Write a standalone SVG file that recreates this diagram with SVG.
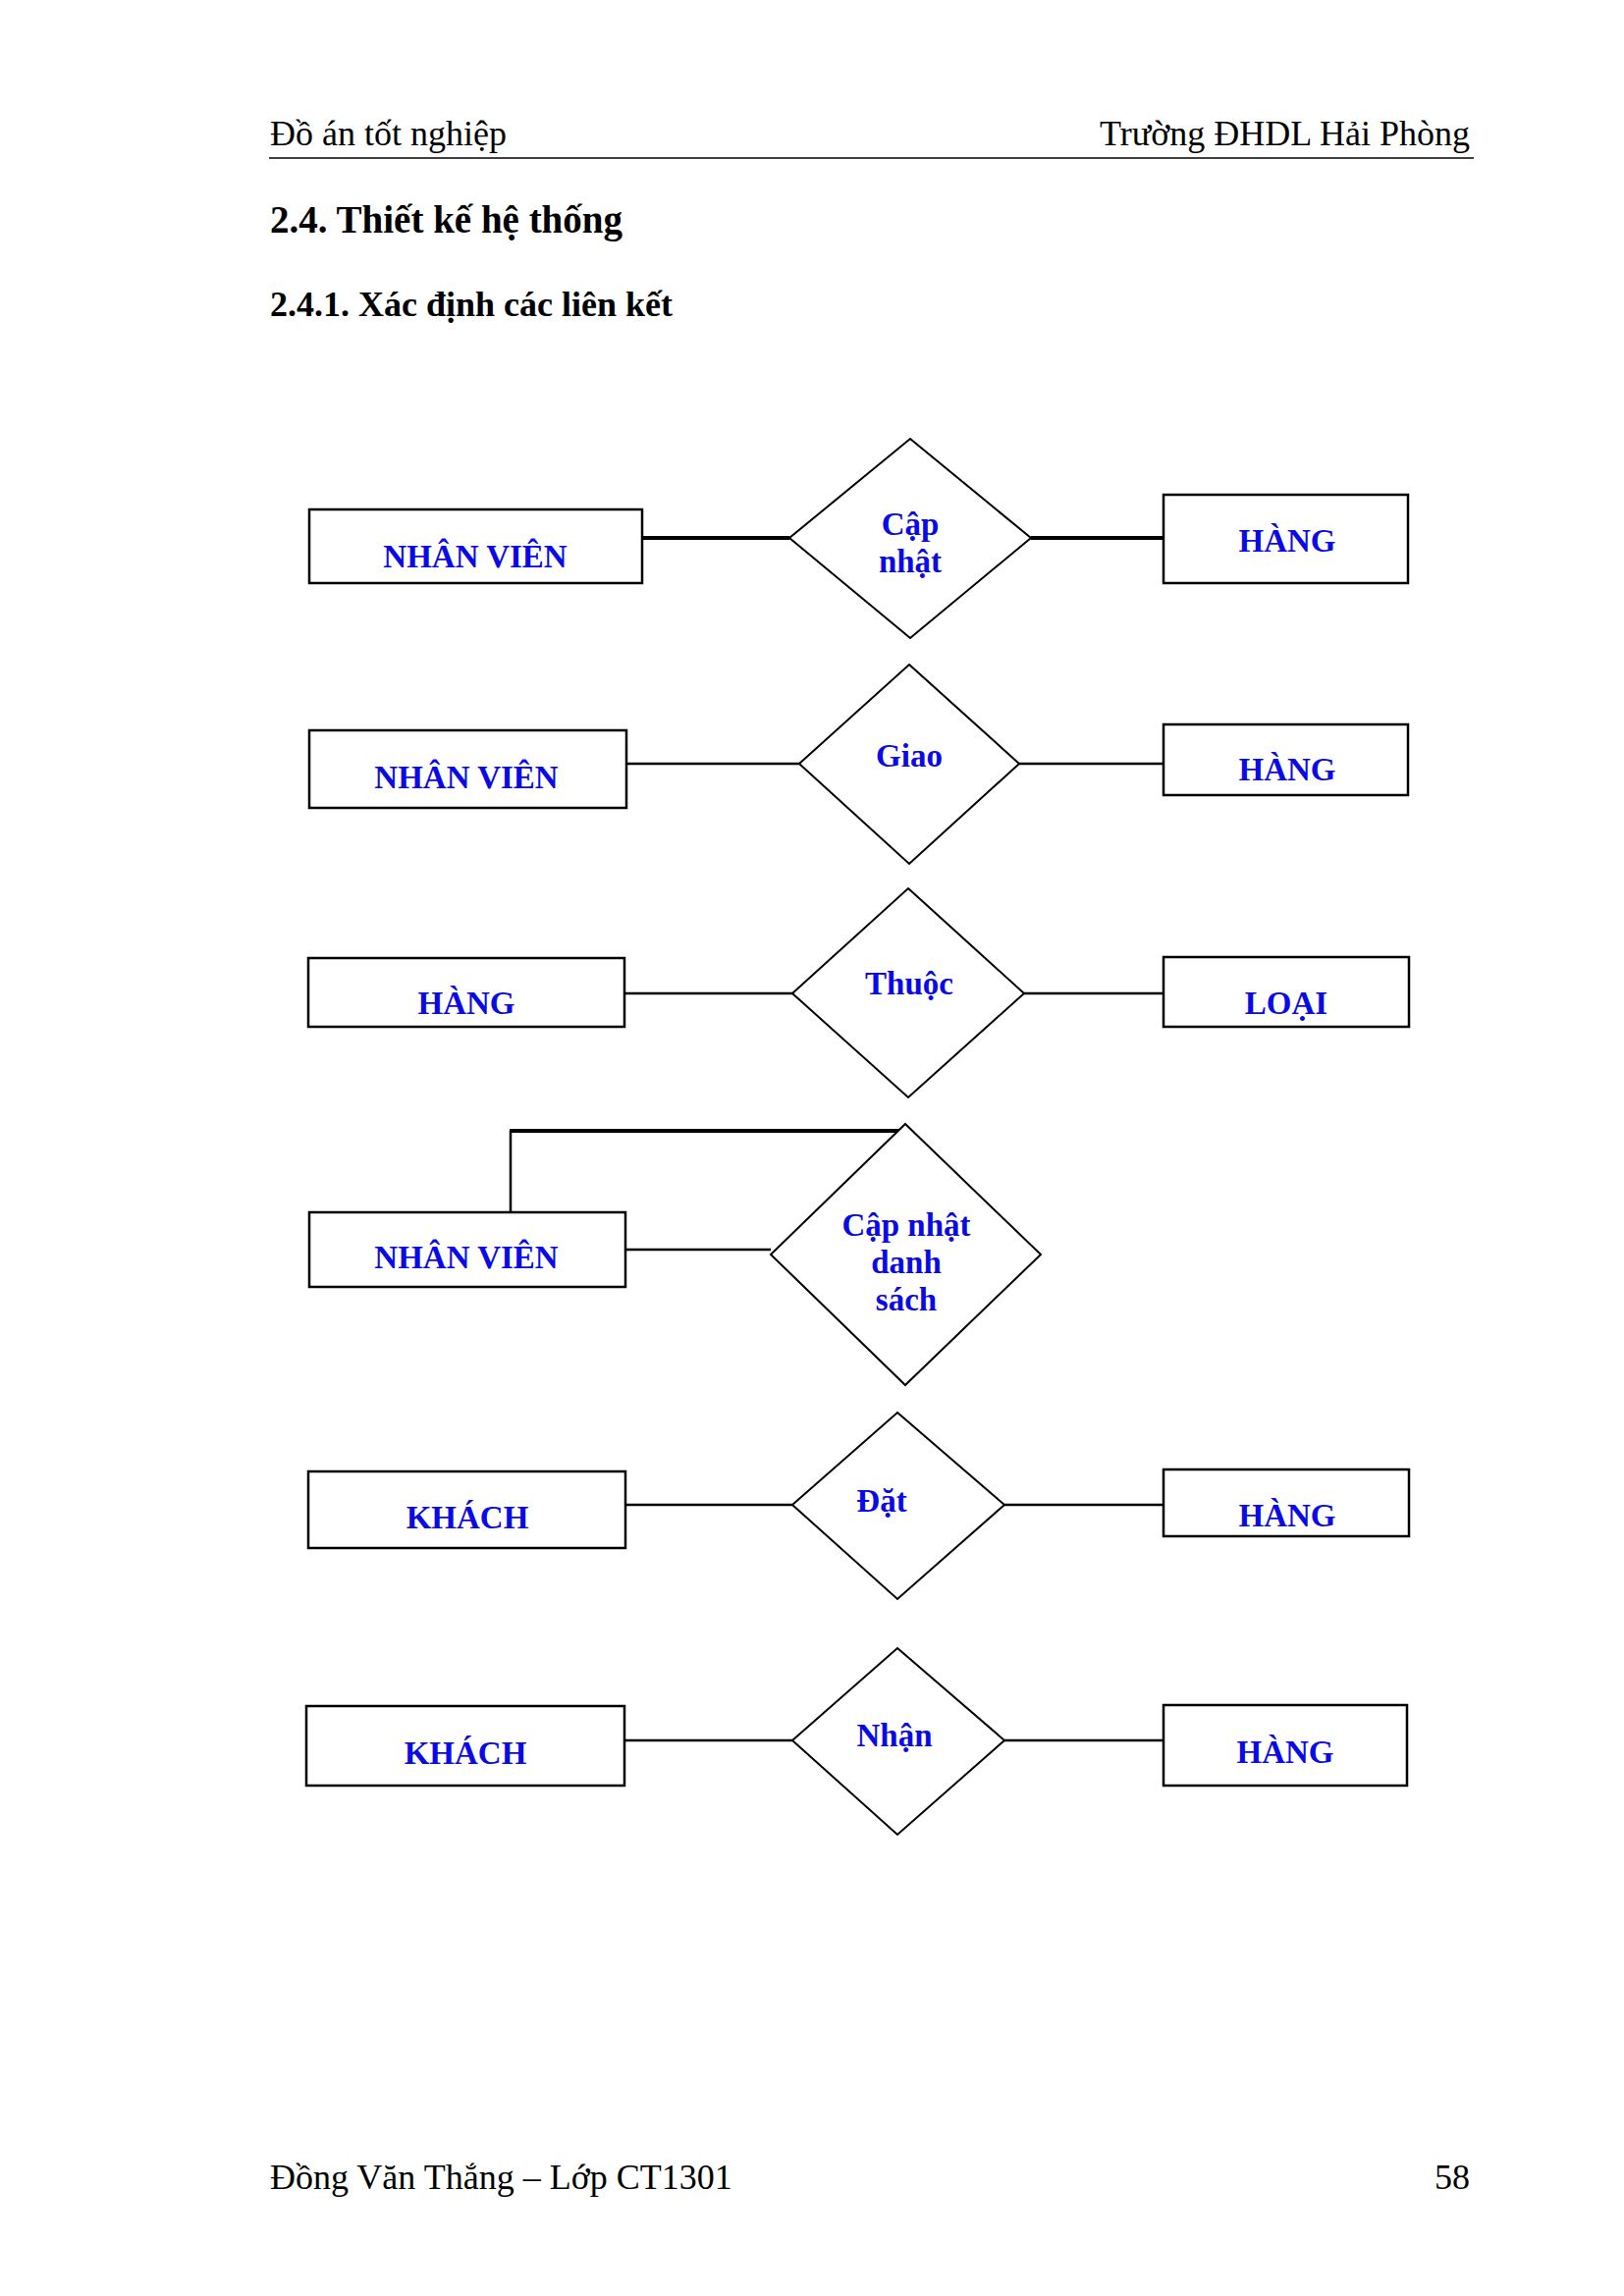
<svg xmlns="http://www.w3.org/2000/svg" width="1654" height="2339" viewBox="0 0 1654 2339">
  <style>
    .page { font-family: "Liberation Serif", "Times New Roman", serif; fill: #000; }
    .hdr { font-size: 36px; }
    .h1 { font-size: 39px; font-weight: bold; }
    .h2 { font-size: 36px; font-weight: bold; }
    .ent { fill: #fff; stroke: #000; stroke-width: 2.5; }
    .rel { fill: #fff; stroke: #000; stroke-width: 2; }
    .lbl { font-family: "Liberation Serif", "Times New Roman", serif; font-size: 33px; font-weight: bold; fill: #0a0ae6; text-anchor: middle; }
    .conn { stroke: #000; stroke-width: 2.5; fill: none; }
    .thick { stroke-width: 4; }
  </style>

  <rect width="1654" height="2339" fill="#fff"/>

  <!-- page header -->
  <g id="header">
    <text class="page hdr" x="275" y="148">Đồ án tốt nghiệp</text>
    <text class="page hdr" x="1497" y="148" text-anchor="end">Trường ĐHDL Hải Phòng</text>
    <line x1="274" y1="161" x2="1501" y2="161" stroke="#000" stroke-width="1.5"/>
  </g>

  <text class="page h1" x="275" y="237">2.4. Thiết kế hệ thống</text>
  <text class="page h2" x="275" y="322">2.4.1. Xác định các liên kết</text>

  <!-- connectors -->
  <g id="connectors">
    <line class="conn thick" x1="654" y1="548" x2="804" y2="548"/>
    <line class="conn thick" x1="1050" y1="548" x2="1185" y2="548"/>

    <line class="conn" x1="638" y1="778" x2="814" y2="778"/>
    <line class="conn" x1="1038" y1="778" x2="1185" y2="778"/>

    <line class="conn" x1="636" y1="1012" x2="807" y2="1012"/>
    <line class="conn" x1="1043" y1="1012" x2="1185" y2="1012"/>

    <polyline class="conn" points="520,1235 520,1152"/>
    <line class="conn thick" x1="519" y1="1152" x2="924" y2="1152"/>
    <line class="conn" x1="637" y1="1273" x2="785" y2="1273"/>

    <line class="conn" x1="637" y1="1533" x2="807" y2="1533"/>
    <line class="conn" x1="1023" y1="1533" x2="1185" y2="1533"/>

    <line class="conn" x1="636" y1="1773" x2="807" y2="1773"/>
    <line class="conn" x1="1023" y1="1773" x2="1185" y2="1773"/>
  </g>

  <!-- row 1 -->
  <g id="nv1">
    <rect class="ent" x="315" y="519" width="339" height="75"/>
    <text class="lbl" x="484" y="578">NHÂN VIÊN</text>
  </g>
  <g id="capnhat">
    <polygon class="rel" points="927,447 1050,548 927,650 804,548"/>
    <text class="lbl" x="927" y="545">Cập</text>
    <text class="lbl" x="927" y="583">nhật</text>
  </g>
  <g id="hang1">
    <rect class="ent" x="1185" y="504" width="249" height="90"/>
    <text class="lbl" x="1311" y="562">HÀNG</text>
  </g>

  <!-- row 2 -->
  <g id="nv2">
    <rect class="ent" x="315" y="744" width="323" height="79"/>
    <text class="lbl" x="475" y="803">NHÂN VIÊN</text>
  </g>
  <g id="giao">
    <polygon class="rel" points="926,677 1038,778 926,880 814,778"/>
    <text class="lbl" x="926" y="781">Giao</text>
  </g>
  <g id="hang2">
    <rect class="ent" x="1185" y="738" width="249" height="72"/>
    <text class="lbl" x="1311" y="795">HÀNG</text>
  </g>

  <!-- row 3 -->
  <g id="hang3">
    <rect class="ent" x="314" y="976" width="322" height="70"/>
    <text class="lbl" x="475" y="1033">HÀNG</text>
  </g>
  <g id="thuoc">
    <polygon class="rel" points="925,905 1043,1012 925,1118 807,1012"/>
    <text class="lbl" x="926" y="1013">Thuộc</text>
  </g>
  <g id="loai">
    <rect class="ent" x="1185" y="975" width="250" height="71"/>
    <text class="lbl" x="1310" y="1033">LOẠI</text>
  </g>

  <!-- row 4 -->
  <g id="nv4">
    <rect class="ent" x="315" y="1235" width="322" height="76"/>
    <text class="lbl" x="475" y="1292">NHÂN VIÊN</text>
  </g>
  <g id="capnhatds">
    <polygon class="rel" points="922,1145 1060,1278 922,1411 785,1278"/>
    <text class="lbl" x="923" y="1259">Cập nhật</text>
    <text class="lbl" x="923" y="1297">danh</text>
    <text class="lbl" x="923" y="1335">sách</text>
  </g>

  <!-- row 5 -->
  <g id="khach5">
    <rect class="ent" x="314" y="1499" width="323" height="78"/>
    <text class="lbl" x="476" y="1557">KHÁCH</text>
  </g>
  <g id="dat">
    <polygon class="rel" points="914,1439 1023,1533 914,1629 807,1533"/>
    <text class="lbl" x="898" y="1540">Đặt</text>
  </g>
  <g id="hang5">
    <rect class="ent" x="1185" y="1497" width="250" height="68"/>
    <text class="lbl" x="1311" y="1555">HÀNG</text>
  </g>

  <!-- row 6 -->
  <g id="khach6">
    <rect class="ent" x="312" y="1738" width="324" height="81"/>
    <text class="lbl" x="474" y="1797">KHÁCH</text>
  </g>
  <g id="nhan">
    <polygon class="rel" points="914,1679 1023,1773 914,1869 807,1773"/>
    <text class="lbl" x="911" y="1779">Nhận</text>
  </g>
  <g id="hang6">
    <rect class="ent" x="1185" y="1737" width="248" height="82"/>
    <text class="lbl" x="1309" y="1796">HÀNG</text>
  </g>

  <!-- page footer -->
  <g id="footer">
    <text class="page hdr" x="275" y="2230">Đồng Văn Thắng – Lớp CT1301</text>
    <text class="page hdr" x="1497" y="2230" text-anchor="end">58</text>
  </g>
</svg>
